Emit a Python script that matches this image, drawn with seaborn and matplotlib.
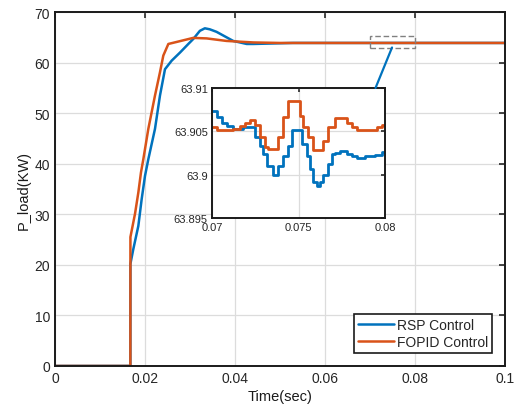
import numpy as np
import pandas as pd
import matplotlib
matplotlib.use("Agg")
import matplotlib.pyplot as plt
import seaborn as sns
from matplotlib.patches import Rectangle, ConnectionPatch

# main response curves (time in sec, load in KW)
rsp_time = [0.0, 0.01675, 0.01676, 0.0174, 0.01852, 0.01926, 0.0200, 0.02074,
            0.02222, 0.02333, 0.02444, 0.02593, 0.02778, 0.02963, 0.03074, 0.0322,
            0.0333, 0.0344, 0.0359, 0.0396, 0.0426, 0.0441, 0.0529, 0.1]
rsp_load = [0.0, 0.0, 20.2, 23.1, 27.7, 33.0, 37.6, 40.9,
            46.9, 53.5, 58.7, 60.4, 62.0, 63.7, 64.7, 66.3,
            66.8, 66.6, 66.1, 64.3, 63.7, 63.7, 63.9, 63.9]

fopid_time = [0.0, 0.01675, 0.01676, 0.01778, 0.01852, 0.01911, 0.01963, 0.02074,
              0.02222, 0.02333, 0.02407, 0.02519, 0.02704, 0.0307, 0.0337, 0.0381,
              0.0441, 0.05, 0.1]
fopid_load = [0.0, 0.0, 25.5, 30.1, 34.3, 38.3, 40.9, 46.9,
              53.5, 58.1, 61.4, 63.7, 64.1, 64.9, 64.8, 64.3,
              64.0, 63.9, 63.9]

# zoomed window 0.07 - 0.08 s
rsp_zoom_time = [0.07, 0.07027, 0.07056, 0.07085, 0.07123, 0.07181, 0.07249, 0.07277,
                 0.07297, 0.07316, 0.07354, 0.07383, 0.07412, 0.07441, 0.07461, 0.07518,
                 0.07547, 0.07566, 0.07586, 0.07605, 0.07624, 0.07643, 0.07672, 0.07692,
                 0.07711, 0.0774, 0.07778, 0.07808, 0.07836, 0.07884, 0.07942, 0.07981, 0.08]
rsp_zoom_load = [63.9074, 63.9066, 63.9060, 63.9056, 63.9053, 63.9055, 63.9043, 63.9033,
                 63.9024, 63.9010, 63.9000, 63.9010, 63.9022, 63.9033, 63.9052, 63.9035,
                 63.9022, 63.9007, 63.8991, 63.8987, 63.8991, 63.9000, 63.9012, 63.9024,
                 63.9025, 63.9027, 63.9024, 63.9021, 63.9019, 63.9021, 63.9023, 63.9026, 63.9026]

fopid_zoom_time = [0.07, 0.07027, 0.07123, 0.07162, 0.07191, 0.0722, 0.07249, 0.07277,
                   0.07306, 0.07326, 0.07383, 0.07412, 0.07441, 0.07509, 0.07528, 0.07556,
                   0.07586, 0.07643, 0.07672, 0.07711, 0.07778, 0.07808, 0.07836, 0.07952,
                   0.07981, 0.08]
fopid_zoom_load = [63.9055, 63.9052, 63.9053, 63.9056, 63.9060, 63.9063, 63.9057, 63.9043,
                   63.9032, 63.9030, 63.9044, 63.9066, 63.9085, 63.9068, 63.9055, 63.9043,
                   63.9028, 63.9039, 63.9055, 63.9065, 63.9060, 63.9055, 63.9052, 63.9055,
                   63.9057, 63.9057]

x_ticks = [0, 0.02, 0.04, 0.06, 0.08, 0.1]
x_labels = ["0", "0.02", "0.04", "0.06", "0.08", "0.1"]
y_ticks = [0, 10, 20, 30, 40, 50, 60, 70]
zoom_x_ticks = [0.07, 0.075, 0.08]
zoom_x_labels = ["0.07", "0.075", "0.08"]
zoom_y_ticks = [63.895, 63.9, 63.905, 63.91]
zoom_y_labels = ["63.895", "63.9", "63.905", "63.91"]

BLUE = "#0072BD"
ORANGE = "#D95319"

sns.set_style("white")
plt.rcParams["font.family"] = ["Liberation Sans", "DejaVu Sans"]

main_df = pd.concat([
    pd.DataFrame({"time": rsp_time, "load": rsp_load, "series": "RSP Control"}),
    pd.DataFrame({"time": fopid_time, "load": fopid_load, "series": "FOPID Control"}),
])

fig = plt.figure(figsize=(5.16, 4.10), dpi=100)
ax = fig.add_axes([0.1066, 0.105, 0.872, 0.863])

sns.lineplot(data=main_df, x="time", y="load", hue="series",
             palette={"RSP Control": BLUE, "FOPID Control": ORANGE},
             estimator=None, sort=False, linewidth=1.8, ax=ax)

ax.set_xlim(0, 0.1)
ax.set_ylim(0, 70)
ax.set_xticks(x_ticks)
ax.set_xticklabels(x_labels)
ax.set_yticks(y_ticks)
ax.tick_params(direction="in", top=True, right=True, length=4, width=1.2,
               labelsize=10, colors="#262626")
ax.grid(True, color="#dcdcdc", linewidth=0.9)
for s in ax.spines.values():
    s.set_color("#1a1a1a")
    s.set_linewidth(1.4)
ax.set_xlabel("Time(sec)", fontsize=10.5, color="#1a1a1a", labelpad=3)
ax.set_ylabel("P_load(KW)", fontsize=10.5, color="#1a1a1a", labelpad=3)

leg = ax.legend(loc="lower right", fontsize=10, frameon=True, fancybox=False,
                framealpha=1, edgecolor="#1a1a1a", borderaxespad=0.9,
                handlelength=2.6, handletextpad=0.2, borderpad=0.3, labelspacing=0.25)
leg.get_frame().set_linewidth(1.2)

# dashed zoom box on main plot
box_y0, box_y1 = 63.0, 65.2
ax.add_patch(Rectangle((zoom_x_ticks[0], box_y0), zoom_x_ticks[-1] - zoom_x_ticks[0],
                       box_y1 - box_y0, fill=False, edgecolor="#808080",
                       linestyle=(0, (4, 2)), linewidth=1.0, zorder=5))

# inset
axin = fig.add_axes([0.4109, 0.4659, 0.3353, 0.3171])
zoom_df = pd.concat([
    pd.DataFrame({"time": rsp_zoom_time, "load": rsp_zoom_load, "series": "RSP"}),
    pd.DataFrame({"time": fopid_zoom_time, "load": fopid_zoom_load, "series": "FOPID"}),
])
sns.lineplot(data=zoom_df, x="time", y="load", hue="series",
             palette={"RSP": BLUE, "FOPID": ORANGE}, estimator=None, sort=False,
             drawstyle="steps-post", linewidth=2.0, legend=False, ax=axin)
axin.set_xlim(0.07, 0.08)
axin.set_ylim(63.895, 63.91)
axin.set_xticks(zoom_x_ticks)
axin.set_xticklabels(zoom_x_labels)
axin.set_yticks(zoom_y_ticks)
axin.set_yticklabels(zoom_y_labels)
axin.set_xlabel("")
axin.set_ylabel("")
axin.tick_params(direction="in", top=True, right=True, length=3, width=1.2,
                 labelsize=8, colors="#262626", pad=3)
axin.grid(True, color="#dcdcdc", linewidth=0.9)
for s in axin.spines.values():
    s.set_color("#1a1a1a")
    s.set_linewidth(1.4)

con = ConnectionPatch(xyA=(0.0749, box_y0), coordsA=ax.transData,
                      xyB=(0.945, 1.0), coordsB=axin.transAxes,
                      color=BLUE, linewidth=1.6, zorder=6)
fig.add_artist(con)

fig.savefig("out.png", dpi=100)
